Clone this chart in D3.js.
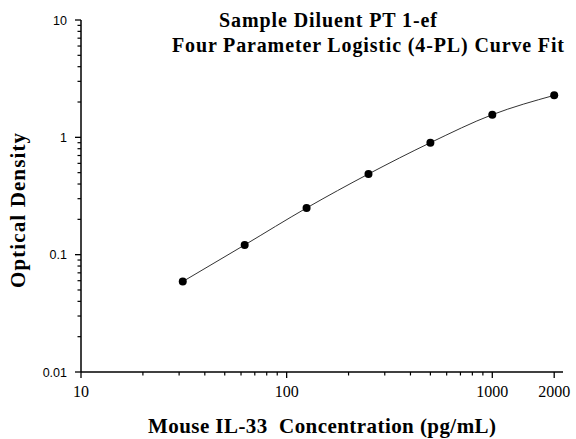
<!DOCTYPE html>
<html><head><meta charset="utf-8">
<script src="https://cdn.jsdelivr.net/npm/d3@7"></script>
<style>body{margin:0;background:#fff}svg{display:block}</style>
</head><body>
<svg id="c" width="576" height="439"></svg>
<script>
const concentrations = [31.25, 62.5, 125, 250, 500, 1000, 2000];
const odValues = [0.059, 0.121, 0.25, 0.487, 0.90, 1.56, 2.28];
const xTickValues = [10, 100, 1000, 2000];
const xTickLabels = ["10", "100", "1000", "2000"];
const yTickValues = [0.01, 0.1, 1, 10];
const yTickLabels = ["0.01", "0.1", "1", "10"];
const titleLines = ["Sample Diluent PT 1-ef", "Four Parameter Logistic (4-PL) Curve Fit"];
const xTitle = "Mouse IL-33  Concentration (pg/mL)";
const yTitle = "Optical Density";

const svg = d3.select("#c");
const x = d3.scaleLog().domain([10, 2000]).range([81, 554.2]);
const y = d3.scaleLog().domain([0.01, 10]).range([372, 20]);
const xEnd = 563;

const xMinor = [];
for (let d = 10; d < 1000; d *= 10) for (let k = 2; k <= 9; k++) xMinor.push(k * d);
const yMinor = [];
for (let d = 0.01; d < 10; d *= 10) for (let k = 2; k <= 9; k++) yMinor.push(k * d);

const g = svg.append("g");
g.append("line").attr("x1", 81).attr("x2", xEnd).attr("y1", 372).attr("y2", 372)
  .attr("stroke", "#000").attr("stroke-width", 1.5);
g.append("line").attr("x1", 81).attr("x2", 81).attr("y1", 20).attr("y2", 372)
  .attr("stroke", "#000").attr("stroke-width", 1.5);

g.selectAll(".xmaj").data(xTickValues).join("line")
  .attr("x1", d => x(d)).attr("x2", d => x(d)).attr("y1", 372).attr("y2", 378)
  .attr("stroke", "#000").attr("stroke-width", 1.3);
g.selectAll(".xmin").data(xMinor).join("line")
  .attr("x1", d => x(d)).attr("x2", d => x(d)).attr("y1", 372).attr("y2", 375.5)
  .attr("stroke", "#000").attr("stroke-width", 1.2);
g.selectAll(".ymaj").data(yTickValues).join("line")
  .attr("x1", 75).attr("x2", 81).attr("y1", d => y(d)).attr("y2", d => y(d))
  .attr("stroke", "#000").attr("stroke-width", 1.3);
g.selectAll(".ymin").data(yMinor).join("line")
  .attr("x1", 77.5).attr("x2", 81).attr("y1", d => y(d)).attr("y2", d => y(d))
  .attr("stroke", "#000").attr("stroke-width", 1.2);

g.selectAll(".xl").data(xTickValues).join("text")
  .attr("x", d => x(d)).attr("y", 397).attr("text-anchor", "middle")
  .attr("font-family", "Liberation Serif, Times New Roman, serif").attr("font-size", 16)
  .text((d, i) => xTickLabels[i]);
g.selectAll(".yl").data(yTickValues).join("text")
  .attr("x", 67).attr("y", d => y(d) + 4.5).attr("text-anchor", "end")
  .attr("font-family", "Liberation Sans, Arial, sans-serif").attr("font-size", 12.5)
  .text((d, i) => yTickLabels[i]);

const pts = concentrations.map((c, i) => [x(c), y(odValues[i])]);
g.append("path").attr("d", d3.line().curve(d3.curveMonotoneX)(pts))
  .attr("fill", "none").attr("stroke", "#333").attr("stroke-width", 1);
g.selectAll(".pt").data(pts).join("circle")
  .attr("cx", d => d[0]).attr("cy", d => d[1]).attr("r", 4).attr("fill", "#000");

const tf = "Liberation Serif, Times New Roman, serif";
svg.append("text").attr("x", 219).attr("y", 27).attr("font-family", tf).attr("font-weight", "bold")
  .attr("font-size", 20).attr("textLength", 218).attr("lengthAdjust", "spacing").text(titleLines[0]);
svg.append("text").attr("x", 172).attr("y", 52).attr("font-family", tf).attr("font-weight", "bold")
  .attr("font-size", 20).attr("textLength", 392).attr("lengthAdjust", "spacing").text(titleLines[1]);
svg.append("text").attr("x", 148).attr("y", 433).attr("font-family", tf)
  .attr("font-weight", "bold").attr("font-size", 21).attr("textLength", 348).attr("lengthAdjust", "spacing")
  .style("white-space", "pre").text(xTitle);
svg.append("text").attr("transform", "translate(25,288) rotate(-90)")
  .attr("font-family", tf).attr("font-weight", "bold").attr("font-size", 21)
  .attr("textLength", 155).attr("lengthAdjust", "spacing").text(yTitle);
</script>
</body></html>
